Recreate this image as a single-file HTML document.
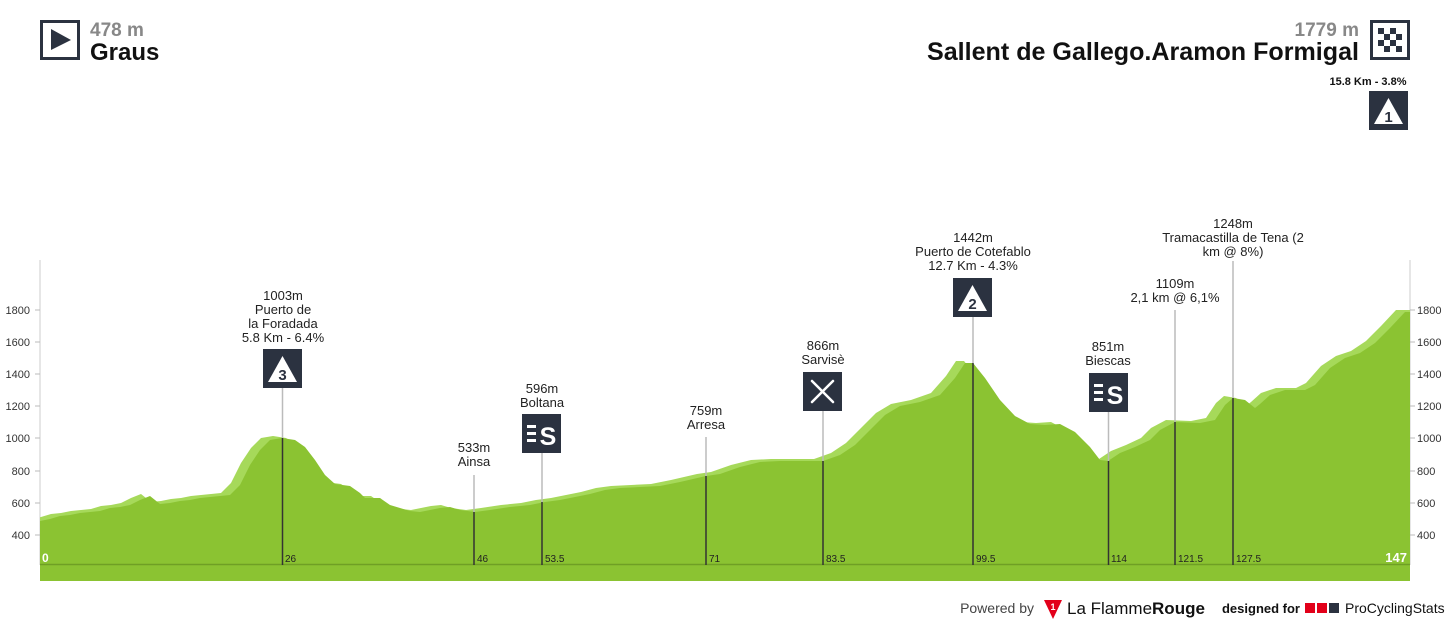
<!DOCTYPE html>
<html><head><meta charset="utf-8"><style>
body{margin:0;background:#fff;width:1450px;height:625px;overflow:hidden;font-family:"Liberation Sans",sans-serif}
</style></head><body>
<svg width="1450" height="625" viewBox="0 0 1450 625" xmlns="http://www.w3.org/2000/svg" font-family="Liberation Sans, sans-serif">
<defs><clipPath id="c"><rect x="40" y="0" width="1370" height="565"/></clipPath></defs>
<!-- header -->
<rect x="41.5" y="21.5" width="37" height="37" fill="#fff" stroke="#2b3240" stroke-width="3"/>
<polygon points="51,29 71,40 51,50" fill="#2b3240"/>
<text x="90" y="36" font-size="19" font-weight="bold" fill="#888">478 m</text>
<text x="90" y="60" font-size="24" font-weight="bold" fill="#111">Graus</text>
<text x="1359" y="36" font-size="19" font-weight="bold" fill="#888" text-anchor="end">1779 m</text>
<text x="1359" y="60" font-size="25" font-weight="bold" fill="#111" text-anchor="end" textLength="432" lengthAdjust="spacingAndGlyphs">Sallent de Gallego.Aramon Formigal</text>
<rect x="1371.5" y="21.5" width="37" height="37" fill="#fff" stroke="#2b3240" stroke-width="3"/>
<g fill="#2b3240">
<rect x="1378" y="28" width="6" height="6"/><rect x="1390" y="28" width="6" height="6"/>
<rect x="1384" y="34" width="6" height="6"/><rect x="1396" y="34" width="6" height="6"/>
<rect x="1378" y="40" width="6" height="6"/><rect x="1390" y="40" width="6" height="6"/>
<rect x="1384" y="46" width="6" height="6"/><rect x="1396" y="46" width="6" height="6"/>
</g>
<text x="1368" y="85" font-size="11" font-weight="bold" fill="#111" text-anchor="middle">15.8 Km - 3.8%</text>
<rect x="1369" y="91" width="39" height="39" fill="#2b3240"/>
<polygon points="1388.5,98 1403,124 1374,124" fill="#fff"/>
<text x="1388.5" y="122" font-size="15" font-weight="bold" fill="#2b3240" text-anchor="middle">1</text>

<!-- axes -->
<line x1="40" y1="260" x2="40" y2="565" stroke="#ccc"/>
<line x1="1410" y1="260" x2="1410" y2="565" stroke="#ccc"/>
<g font-size="11" fill="#333">
<text x="30" y="314" text-anchor="end">1800</text><text x="30" y="346" text-anchor="end">1600</text>
<text x="30" y="378" text-anchor="end">1400</text><text x="30" y="410" text-anchor="end">1200</text>
<text x="30" y="442" text-anchor="end">1000</text><text x="30" y="475" text-anchor="end">800</text>
<text x="30" y="507" text-anchor="end">600</text><text x="30" y="539" text-anchor="end">400</text>
<text x="1417" y="314">1800</text><text x="1417" y="346">1600</text>
<text x="1417" y="378">1400</text><text x="1417" y="410">1200</text>
<text x="1417" y="442">1000</text><text x="1417" y="475">800</text>
<text x="1417" y="507">600</text><text x="1417" y="539">400</text>
</g>
<g stroke="#bbb">
<line x1="35" y1="310" x2="40" y2="310"/><line x1="35" y1="342" x2="40" y2="342"/><line x1="35" y1="374" x2="40" y2="374"/><line x1="35" y1="406" x2="40" y2="406"/><line x1="35" y1="438" x2="40" y2="438"/><line x1="35" y1="471" x2="40" y2="471"/><line x1="35" y1="503" x2="40" y2="503"/><line x1="35" y1="535" x2="40" y2="535"/>
<line x1="1410" y1="310" x2="1415" y2="310"/><line x1="1410" y1="342" x2="1415" y2="342"/><line x1="1410" y1="374" x2="1415" y2="374"/><line x1="1410" y1="406" x2="1415" y2="406"/><line x1="1410" y1="438" x2="1415" y2="438"/><line x1="1410" y1="471" x2="1415" y2="471"/><line x1="1410" y1="503" x2="1415" y2="503"/><line x1="1410" y1="535" x2="1415" y2="535"/>
</g>

<!-- profile -->
<g clip-path="url(#c)">
<polygon transform="translate(-9,-2)" fill="#a6d95a" points="40,521 50,519 60,516 70,515 80,513 90,512 100,511 110,508 120,507 130,505 140,500 150,496 160,504 170,503 180,501 190,500 200,498 210,497 230,495 240,485 250,465 260,450 270,440 282,438 295,440 305,447 315,460 325,475 335,484 350,486 360,493 365,498 380,498 390,505 400,508 410,511 420,512 430,510 440,508 450,507 460,510 475,512 490,510 510,507 530,505 545,502 560,500 575,497 590,494 605,490 620,488 640,487 660,486 680,482 706,476 720,474 740,467 760,462 780,461 800,461 823,461 840,455 855,445 870,430 885,415 900,406 920,402 940,395 955,378 965,363 973,363 985,378 1000,400 1015,416 1030,424 1045,425 1060,424 1075,432 1090,447 1100,460 1108,461 1120,453 1135,447 1150,440 1160,430 1175,422 1200,423 1215,420 1225,405 1233,398 1245,400 1255,408 1260,404 1270,395 1285,390 1305,390 1315,385 1330,368 1345,358 1360,353 1375,343 1390,328 1405,312 1420,312 1420,600 40,600"/>
<polygon fill="#8bc332" points="40,521 50,519 60,516 70,515 80,513 90,512 100,511 110,508 120,507 130,505 140,500 150,496 160,504 170,503 180,501 190,500 200,498 210,497 230,495 240,485 250,465 260,450 270,440 282,438 295,440 305,447 315,460 325,475 335,484 350,486 360,493 365,498 380,498 390,505 400,508 410,511 420,512 430,510 440,508 450,507 460,510 475,512 490,510 510,507 530,505 545,502 560,500 575,497 590,494 605,490 620,488 640,487 660,486 680,482 706,476 720,474 740,467 760,462 780,461 800,461 823,461 840,455 855,445 870,430 885,415 900,406 920,402 940,395 955,378 965,363 973,363 985,378 1000,400 1015,416 1030,424 1045,425 1060,424 1075,432 1090,447 1100,460 1108,461 1120,453 1135,447 1150,440 1160,430 1175,422 1200,423 1215,420 1225,405 1233,398 1245,400 1255,408 1260,404 1270,395 1285,390 1305,390 1315,385 1330,368 1345,358 1360,353 1375,343 1390,328 1405,312 1410,312 1410,600 40,600"/>
</g>
<rect x="40" y="565" width="1370" height="16" fill="#8bc332"/>
<line x1="40" y1="564.5" x2="1410" y2="564.5" stroke="#6f9f25" stroke-width="1.5"/>

<!-- markers -->
<g stroke-width="1.5">
<line x1="282.5" y1="388" x2="282.5" y2="438" stroke="#bbb"/><line x1="282.5" y1="438" x2="282.5" y2="565" stroke="#333"/>
<line x1="474" y1="475" x2="474" y2="512" stroke="#bbb"/><line x1="474" y1="512" x2="474" y2="565" stroke="#333"/>
<line x1="542" y1="453" x2="542" y2="502" stroke="#bbb"/><line x1="542" y1="502" x2="542" y2="565" stroke="#333"/>
<line x1="706" y1="437" x2="706" y2="476" stroke="#bbb"/><line x1="706" y1="476" x2="706" y2="565" stroke="#333"/>
<line x1="823" y1="411" x2="823" y2="461" stroke="#bbb"/><line x1="823" y1="461" x2="823" y2="565" stroke="#333"/>
<line x1="973" y1="317" x2="973" y2="363" stroke="#bbb"/><line x1="973" y1="363" x2="973" y2="565" stroke="#333"/>
<line x1="1108.5" y1="412" x2="1108.5" y2="461" stroke="#bbb"/><line x1="1108.5" y1="461" x2="1108.5" y2="565" stroke="#333"/>
<line x1="1175" y1="310" x2="1175" y2="422" stroke="#bbb"/><line x1="1175" y1="422" x2="1175" y2="565" stroke="#333"/>
<line x1="1233" y1="261" x2="1233" y2="398" stroke="#bbb"/><line x1="1233" y1="398" x2="1233" y2="565" stroke="#333"/>
</g>
<g font-size="10" fill="#222">
<text x="285" y="562">26</text><text x="477" y="562">46</text><text x="545" y="562">53.5</text><text x="709" y="562">71</text><text x="826" y="562">83.5</text><text x="976" y="562">99.5</text><text x="1111" y="562">114</text><text x="1178" y="562">121.5</text><text x="1236" y="562">127.5</text>
</g>
<text x="42" y="562" font-size="12" font-weight="bold" fill="#fff">0</text>
<text x="1407" y="562" font-size="13" font-weight="bold" fill="#fff" text-anchor="end">147</text>

<!-- labels -->
<g font-size="13" fill="#222" text-anchor="middle">
<text x="283" y="300">1003m</text><text x="283" y="314">Puerto de</text><text x="283" y="328">la Foradada</text><text x="283" y="342">5.8 Km - 6.4%</text>
<text x="474" y="452">533m</text><text x="474" y="466">Ainsa</text>
<text x="542" y="393">596m</text><text x="542" y="407">Boltana</text>
<text x="706" y="415">759m</text><text x="706" y="429">Arresa</text>
<text x="823" y="350">866m</text><text x="823" y="364">Sarvisè</text>
<text x="973" y="242">1442m</text><text x="973" y="256">Puerto de Cotefablo</text><text x="973" y="270">12.7 Km - 4.3%</text>
<text x="1108" y="351">851m</text><text x="1108" y="365">Biescas</text>
<text x="1175" y="288">1109m</text><text x="1175" y="302">2,1 km @ 6,1%</text>
<text x="1233" y="228">1248m</text><text x="1233" y="242">Tramacastilla de Tena (2</text><text x="1233" y="256">km @ 8%)</text>
</g>
<!-- icons -->
<rect x="263" y="349" width="39" height="39" fill="#2b3240"/>
<polygon points="282.5,356 297,382 268,382" fill="#fff"/>
<text x="282.5" y="380" font-size="15" font-weight="bold" fill="#2b3240" text-anchor="middle">3</text>
<rect x="953" y="278" width="39" height="39" fill="#2b3240"/>
<polygon points="972.5,285 987,311 958,311" fill="#fff"/>
<text x="972.5" y="309" font-size="15" font-weight="bold" fill="#2b3240" text-anchor="middle">2</text>
<rect x="522" y="414" width="39" height="39" fill="#2b3240"/>
<g fill="#fff"><rect x="527" y="425" width="9" height="3"/><rect x="527" y="432" width="9" height="3"/><rect x="527" y="439" width="9" height="3"/></g>
<text x="548" y="445" font-size="25" font-weight="bold" fill="#fff" text-anchor="middle">S</text>
<rect x="1089" y="373" width="39" height="39" fill="#2b3240"/>
<g fill="#fff"><rect x="1094" y="384" width="9" height="3"/><rect x="1094" y="391" width="9" height="3"/><rect x="1094" y="398" width="9" height="3"/></g>
<text x="1115" y="404" font-size="25" font-weight="bold" fill="#fff" text-anchor="middle">S</text>
<rect x="803" y="372" width="39" height="39" fill="#2b3240"/>
<g stroke="#fff" stroke-width="2.5" stroke-linecap="round"><line x1="812" y1="381" x2="833" y2="402"/><line x1="833" y1="381" x2="812" y2="402"/></g>

<!-- footer -->
<text x="1034" y="613" font-size="14" fill="#444" text-anchor="end">Powered by</text>
<polygon points="1044,600 1062,600 1053,619" fill="#e2001a"/>
<text x="1053" y="610" font-size="9" font-weight="bold" fill="#fff" text-anchor="middle">1</text>
<text x="1067" y="614" font-size="17" fill="#111">La Flamme<tspan font-weight="bold">Rouge</tspan></text>
<text x="1300" y="613" font-size="13" font-weight="bold" fill="#111" text-anchor="end">designed for</text>
<rect x="1305" y="603" width="10" height="10" fill="#e2001a"/><rect x="1317" y="603" width="10" height="10" fill="#e2001a"/><rect x="1329" y="603" width="10" height="10" fill="#2b3240"/>
<text x="1345" y="613" font-size="14" fill="#111">ProCyclingStats</text>
</svg>
</body></html>
